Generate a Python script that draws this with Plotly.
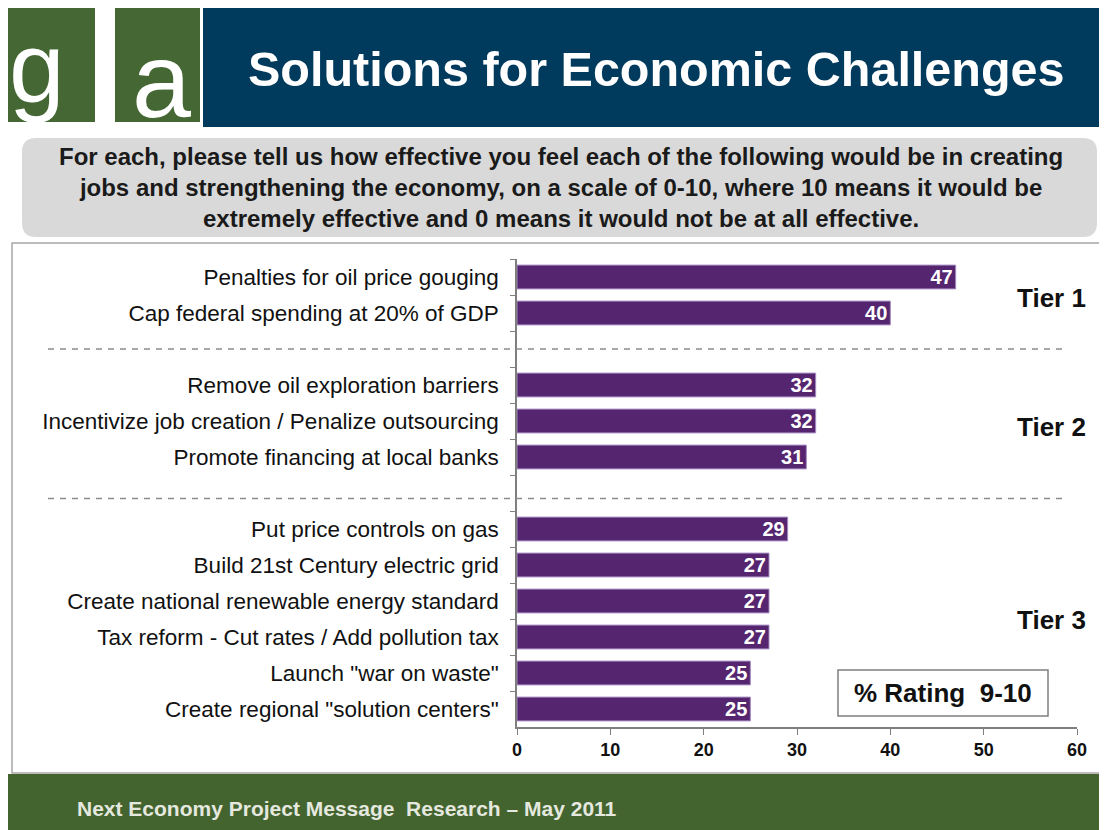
import plotly.graph_objects as go

# ---------------- data ----------------
tier1_labels = ["Penalties for oil price gouging", "Cap federal spending at 20% of GDP"]
tier1_values = [47, 40]
tier2_labels = ["Remove oil exploration barriers",
                "Incentivize job creation / Penalize outsourcing",
                "Promote financing at local banks"]
tier2_values = [32, 32, 31]
tier3_labels = ["Put price controls on gas", "Build 21st Century electric grid",
                "Create national renewable energy standard",
                "Tax reform - Cut rates / Add pollution tax",
                "Launch \"war on waste\"", "Create regional \"solution centers\""]
tier3_values = [29, 27, 27, 27, 25, 25]
tier_names = ["Tier 1", "Tier 2", "Tier 3"]
x_ticks = [0, 10, 20, 30, 40, 50, 60]

categories = tier1_labels + [" "] + tier2_labels + ["  "] + tier3_labels
values = tier1_values + [None] + tier2_values + [None] + tier3_values
texts = [str(v) if v is not None else "" for v in values]

# ---------------- layout geometry ----------------
# page body has an 8px margin, so the figure is drawn 8px in from the window corner
OFF = 8
W, H = 1107 - OFF, 830 - OFF
PLOT_X0, PLOT_X1 = 517, 1077      # window pixels of x = 0 and x = 60
PLOT_Y0, PLOT_Y1 = 259, 727       # window pixels of top and bottom of the plot area
L = PLOT_X0 - OFF
R = W - (PLOT_X1 - OFF)
T = PLOT_Y0 - OFF
B = H - (PLOT_Y1 - OFF)
PW, PH = W - L - R, H - T - B

def px(x):
    return (x - OFF - L) / PW

def py(y):
    return (H - B - (y - OFF)) / PH

PURPLE = "#55266F"
FONT = "Liberation Sans, Arial, sans-serif"
NARROW = "Liberation Sans Narrow, Liberation Sans, Arial, sans-serif"

fig = go.Figure(go.Bar(
    x=values, y=categories, orientation="h",
    marker=dict(color=PURPLE, line=dict(color="#A68BC2", width=1)),
    width=0.66,
    text=texts, textposition="inside", insidetextanchor="end", constraintext="none",
    textfont=dict(color="white", size=20, family=NARROW, weight="bold"),
    cliponaxis=False, hoverinfo="skip",
))

shapes = []
annotations = []

def rounded_rect(x0, y0, x1, y1, r):
    X0, X1 = px(x0), px(x1)
    Y0, Y1 = py(y0), py(y1)   # Y0 top (larger), Y1 bottom
    rx, ry = r / PW, r / PH
    return (f"M {X0+rx},{Y0} L {X1-rx},{Y0} Q {X1},{Y0} {X1},{Y0-ry} "
            f"L {X1},{Y1+ry} Q {X1},{Y1} {X1-rx},{Y1} L {X0+rx},{Y1} "
            f"Q {X0},{Y1} {X0},{Y1+ry} L {X0},{Y0-ry} Q {X0},{Y0} {X0+rx},{Y0} Z")

# header logo
shapes.append(dict(type="rect", xref="paper", yref="paper", x0=px(7), x1=px(95), y0=py(122), y1=py(8),
                   fillcolor="#456733", line=dict(width=0), layer="below"))
shapes.append(dict(type="rect", xref="paper", yref="paper", x0=px(115), x1=px(200), y0=py(122), y1=py(8),
                   fillcolor="#456733", line=dict(width=0), layer="below"))
annotations.append(dict(text="g", xref="paper", yref="paper", x=px(37), y=py(67), showarrow=False,
                        font=dict(family=FONT, size=100, color="white"), xanchor="center", yanchor="middle"))
annotations.append(dict(text="a", xref="paper", yref="paper", x=px(161), y=py(80), showarrow=False,
                        font=dict(family=FONT, size=106, color="white"), xanchor="center", yanchor="middle"))
# banner
shapes.append(dict(type="rect", xref="paper", yref="paper", x0=px(203), x1=px(1100), y0=py(127), y1=py(8),
                   fillcolor="#003A5D", line=dict(width=0), layer="below"))
annotations.append(dict(text="<b>Solutions for Economic Challenges</b>", xref="paper", yref="paper",
                        x=px(656), y=py(69), showarrow=False, xanchor="center", yanchor="middle",
                        font=dict(family=FONT, size=48.5, color="white")))
# question box
shapes.append(dict(type="path", xref="paper", yref="paper", path=rounded_rect(22, 138, 1097, 237, 14),
                   fillcolor="#D9D9D9", line=dict(width=0), layer="below"))
annotations.append(dict(
    text="<b>For each, please tell us how effective you feel each of the following would be in creating<br>"
         "jobs and strengthening the economy, on a scale of 0-10, where 10 means it would be<br>"
         "extremely effective and 0 means it would not be at all effective.</b>",
    xref="paper", yref="paper", x=px(561), y=py(187), showarrow=False, xanchor="center", yanchor="middle",
    align="center", font=dict(family=FONT, size=24, color="#1A1A1A")))
# chart frame
shapes.append(dict(type="rect", xref="paper", yref="paper", x0=px(12), x1=px(1102), y0=py(773), y1=py(243),
                   fillcolor="rgba(0,0,0,0)", line=dict(color="#A6A6A6", width=1.5), layer="below"))
# footer
shapes.append(dict(type="rect", xref="paper", yref="paper", x0=px(8), x1=px(1100), y0=py(830), y1=py(774),
                   fillcolor="#43632F", line=dict(width=0), layer="below"))
annotations.append(dict(text="<b>Next Economy Project Message  Research – May 2011</b>", xref="paper", yref="paper",
                        x=px(75), y=py(808), showarrow=False, xanchor="left", yanchor="middle",
                        font=dict(family=NARROW, size=21, color="#E4E8DF")))
# dashed separators
for yi in [2, 6.15]:
    shapes.append(dict(type="line", xref="paper", yref="y", x0=px(48), x1=px(1062), y0=yi, y1=yi,
                       line=dict(color="#8C8C8C", width=1.5, dash="6px,6px")))
# tier labels
for name, ypix in zip(tier_names, [298, 427, 620]):
    annotations.append(dict(text=name, xref="paper", yref="paper", x=px(1088), y=py(ypix), showarrow=False,
                            xanchor="right", yanchor="middle",
                            font=dict(family=NARROW, size=26, color="#111111", weight="bold")))
# rating box
shapes.append(dict(type="rect", xref="paper", yref="paper", x0=px(838), x1=px(1048), y0=py(716), y1=py(670),
                   fillcolor="white", line=dict(color="#7F7F7F", width=1.5)))
annotations.append(dict(text="<b>% Rating  9-10</b>", xref="paper", yref="paper", x=px(943), y=py(693),
                        showarrow=False, xanchor="center", yanchor="middle",
                        font=dict(family=NARROW, size=26, color="#111111")))

fig.update_layout(
    width=W, height=H, margin=dict(l=L, r=R, t=T, b=B, autoexpand=False),
    paper_bgcolor="white", plot_bgcolor="white", showlegend=False,
    shapes=shapes, annotations=annotations,
    xaxis=dict(range=[0, 60], tickvals=x_ticks, ticks="outside", ticklen=6, tickcolor="#7F7F7F",
               showgrid=False, zeroline=False, showline=True, linecolor="#7F7F7F", linewidth=1.5,
               tickfont=dict(family=NARROW, size=18, color="#111111", weight="bold"), fixedrange=True),
    yaxis=dict(categoryorder="array", categoryarray=categories, autorange="reversed",
               ticks="outside", tickson="boundaries", ticklen=5, tickcolor="#7F7F7F",
               showline=True, linecolor="#7F7F7F", linewidth=1.5, showgrid=False,
               tickfont=dict(family=FONT, size=22.5, color="#111111"), ticklabelstandoff=12,
               fixedrange=True),
    bargap=0.3,
)

fig.write_html("out.html")
